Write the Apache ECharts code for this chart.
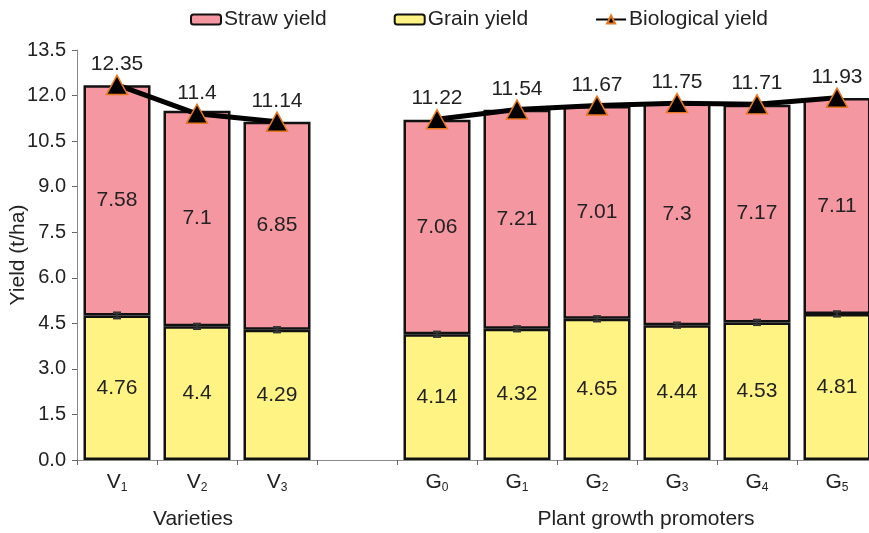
<!DOCTYPE html>
<html>
<head>
<meta charset="utf-8">
<script src="https://cdn.jsdelivr.net/npm/echarts@6/dist/echarts.min.js"></script>
<style>
  html, body { margin: 0; padding: 0; background: #fff; }
  #chart { width: 869px; height: 533px; }
</style>
</head>
<body>
<div id="chart"></div>
<script>
// categories (empty slot separates the two groups)
const categories = ['V1', 'V2', 'V3', '', 'G0', 'G1', 'G2', 'G3', 'G4', 'G5']
const grainYield = [4.76, 4.4, 4.29, null, 4.14, 4.32, 4.65, 4.44, 4.53, 4.81]
const strawYield = [7.58, 7.1, 6.85, null, 7.06, 7.21, 7.01, 7.3, 7.17, 7.11]
const bioYield = [12.35, 11.4, 11.14, null, 11.22, 11.54, 11.67, 11.75, 11.71, 11.93]
const grainErr = [0.09, 0.08, 0.08, null, 0.08, 0.08, 0.08, 0.08, 0.08, 0.08]
const yTicks = { min: 0, max: 13.5, interval: 1.5 }

const chart = echarts.init(document.getElementById('chart'))
const font = 'Liberation Sans, Arial, sans-serif'
const txt = '#222'
const fs = 21

const errData = grainYield.map((v, i) => (v == null ? null : [i, v, grainErr[i]])).filter(d => d)

const option = {
  animation: false,
  textStyle: { fontFamily: font },
  legend: {
    top: 4,
    left: 185,
    itemGap: 67,
    itemWidth: 30,
    itemHeight: 10,
    textStyle: { fontSize: fs, color: txt, fontFamily: font, padding: [0, 0, 0, -2] },
    data: ['Straw yield', 'Grain yield', 'Biological yield']
  },
  grid: { left: 77, right: -8, top: 50, bottom: 73, containLabel: false, outerBoundsMode: 'none' },
  xAxis: {
    type: 'category',
    data: categories,
    axisLine: { lineStyle: { color: '#888', width: 1 } },
    axisTick: { show: true, interval: 0, length: 5, lineStyle: { color: '#666' } },
    axisLabel: {
      interval: 0,
      margin: 10,
      formatter: v => (v ? v[0] + '{sub|' + v.slice(1) + '}' : ''),
      fontSize: fs,
      color: txt,
      rich: { sub: { fontSize: 12, color: txt, padding: [12, 0, 0, 0] } }
    }
  },
  yAxis: {
    type: 'value',
    min: yTicks.min,
    max: yTicks.max,
    interval: yTicks.interval,
    name: 'Yield (t/ha)',
    nameLocation: 'middle',
    nameGap: 48,
    nameMoveOverlap: false,
    nameTextStyle: { fontSize: fs, color: txt },
    axisLine: { show: true, lineStyle: { color: '#888' } },
    axisTick: { show: true, length: 5, lineStyle: { color: '#666' } },
    splitLine: { show: false },
    axisLabel: { fontSize: 20, color: txt, formatter: v => v.toFixed(1), margin: 11 }
  },
  series: [
    {
      name: 'Grain yield',
      type: 'bar',
      stack: 'y',
      barWidth: 67,
      data: grainYield,
      itemStyle: { color: '#FFF384', borderColor: '#111', borderWidth: 2.5 },
      label: { show: true, position: 'inside', fontSize: fs, color: txt }
    },
    {
      name: 'Straw yield',
      type: 'bar',
      stack: 'y',
      barWidth: 67,
      data: strawYield,
      itemStyle: { color: '#F497A1', borderColor: '#111', borderWidth: 2.5 },
      label: { show: true, position: 'inside', fontSize: fs, color: txt }
    },
    {
      name: 'grain error',
      type: 'custom',
      data: errData,
      z: 5,
      renderItem: (params, api) => {
        const x = api.value(0)
        const v = api.value(1)
        const e = api.value(2)
        const top = api.coord([x, v + e])
        const bot = api.coord([x, v - e])
        const c = api.coord([x, v])
        const hw = 4
        const style = { stroke: '#333', lineWidth: 2.5 }
        return {
          type: 'group',
          children: [
            { type: 'line', shape: { x1: c[0], y1: top[1], x2: c[0], y2: bot[1] }, style },
            { type: 'line', shape: { x1: c[0] - hw, y1: top[1], x2: c[0] + hw, y2: top[1] }, style },
            { type: 'line', shape: { x1: c[0] - hw, y1: bot[1], x2: c[0] + hw, y2: bot[1] }, style }
          ]
        }
      }
    },
    {
      name: 'Biological yield',
      type: 'line',
      data: bioYield,
      connectNulls: false,
      z: 10,
      symbol: 'triangle',
      symbolSize: [21, 19],
      lineStyle: { color: '#000', width: 5 },
      itemStyle: { color: '#000', borderColor: '#E8771F', borderWidth: 1.5 },
      label: { show: true, position: 'top', distance: 0, fontSize: fs, color: txt }
    }
  ],
  graphic: [
    { type: 'text', x: 193, y: 509, style: { text: 'Varieties', fill: txt, font: fs + 'px ' + font, textAlign: 'center' } },
    { type: 'text', x: 646, y: 509, style: { text: 'Plant growth promoters', fill: txt, font: fs + 'px ' + font, textAlign: 'center' } }
  ]
}

chart.setOption(option)
</script>
</body>
</html>
